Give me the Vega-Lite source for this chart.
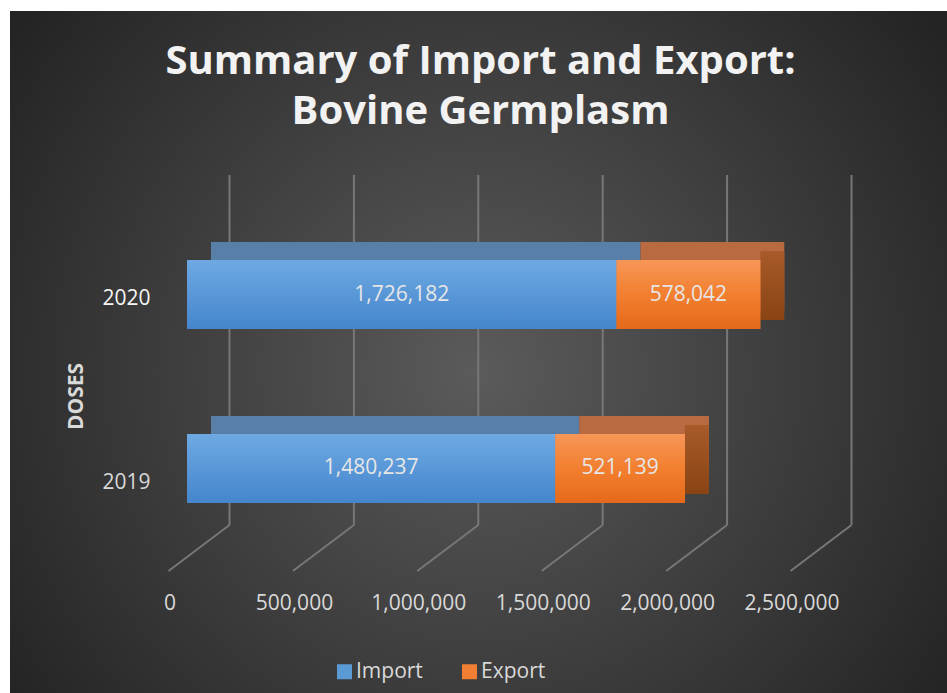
{
  "$schema": "https://vega.github.io/schema/vega-lite/v6.json",
  "width": 937,
  "height": 682,
  "autosize": {"type": "none"},
  "padding": {"left": 10, "top": 11, "right": 0, "bottom": 0},
  "background": "white",
  "config": {
    "font": "Open Sans",
    "view": {
      "stroke": null,
      "fill": {"gradient": "radial", "x1": 0.5, "y1": 0.52, "r1": 0, "x2": 0.5, "y2": 0.52, "r2": 0.62,
        "stops": [{"offset": 0, "color": "#5b5b5b"}, {"offset": 1, "color": "#232323"}]}
    }
  },
  "title": {
    "text": ["Summary of Import and Export:", "Bovine Germplasm"],
    "anchor": "middle",
    "frame": "group",
    "offset": -153,
    "baseline": "alphabetic",
    "font": "Open Sans",
    "fontSize": 40,
    "fontWeight": "bold",
    "color": "#f2f2f2",
    "lineHeight": 50,
    "dx": 2
  },
  "datasets": {
    "bars": [
      {"year": "2020", "type": "Import", "value": 1726182},
      {"year": "2020", "type": "Export", "value": 578042},
      {"year": "2019", "type": "Import", "value": 1480237},
      {"year": "2019", "type": "Export", "value": 521139}
    ],
    "grid": [
      {"v": 0}, {"v": 500000}, {"v": 1000000}, {"v": 1500000}, {"v": 2000000}, {"v": 2500000}
    ]
  },
  "layer": [
    {
      "data": {"name": "grid"},
      "mark": {"type": "rule", "color": "#777777", "strokeWidth": 2, "yOffset": -518, "y2Offset": -168},
      "encoding": {
        "x": {
          "field": "v", "type": "quantitative",
          "scale": {"domain": [-882235, 2883842], "nice": false, "zero": false},
          "axis": {
            "values": [0, 500000, 1000000, 1500000, 2000000, 2500000],
            "labelExpr": "format(datum.value, ',')",
            "domain": false, "ticks": false, "tickSize": 0, "grid": false,
            "labelOffset": -60, "labelPadding": -90, "labelBaseline": "middle",
            "labelFontSize": 21, "labelColor": "#d9d9d9", "labelFont": "Open Sans",
            "labelOverlap": false, "labelFlush": false, "title": null
          }
        },
        "y": {"value": "height"},
        "y2": {"value": "height"}
      }
    },
    {
      "data": {"name": "grid"},
      "mark": {"type": "rule", "color": "#777777", "strokeWidth": 2, "yOffset": -168, "y2Offset": -122, "x2Offset": -61},
      "encoding": {
        "x": {"field": "v", "type": "quantitative"},
        "x2": {"field": "v"},
        "y": {"value": "height"},
        "y2": {"value": "height"}
      }
    },
    {
      "data": {"name": "bars"},
      "transform": [
        {"stack": "value", "groupby": ["year"], "sort": [{"field": "type", "order": "descending"}], "as": ["v0", "v1"]}
      ],
      "mark": {"type": "bar", "xOffset": -18.5, "x2Offset": -18.5, "yOffset": -18, "y2Offset": -18},
      "encoding": {
        "x": {"field": "v0", "type": "quantitative"},
        "x2": {"field": "v1"},
        "y": {"field": "year", "type": "nominal",
          "scale": {"type": "band", "domain": ["2020", "2019"], "range": [249, 492], "paddingInner": 0.6034, "paddingOuter": 0}},
        "fill": {"condition": {"test": "datum.type == 'Import'", "value": "#587fa7"}, "value": "#b96a40"}
      }
    },
    {
      "data": {"name": "bars"},
      "transform": [
        {"stack": "value", "groupby": ["year"], "sort": [{"field": "type", "order": "descending"}], "as": ["v0", "v1"]},
        {"filter": "datum.type == 'Export'"}
      ],
      "mark": {"type": "bar", "xOffset": -42.5, "x2Offset": -18.5, "yOffset": -9, "y2Offset": -9,
        "fill": {"gradient": "linear", "x1": 0, "y1": 0, "x2": 0, "y2": 1,
          "stops": [{"offset": 0, "color": "#a85b2a"}, {"offset": 1, "color": "#8a4313"}]}},
      "encoding": {
        "x": {"field": "v1", "type": "quantitative"},
        "x2": {"field": "v1"},
        "y": {"field": "year", "type": "nominal"}
      }
    },
    {
      "data": {"name": "bars"},
      "transform": [
        {"stack": "value", "groupby": ["year"], "sort": [{"field": "type", "order": "descending"}], "as": ["v0", "v1"]}
      ],
      "mark": {"type": "bar", "xOffset": -42.5, "x2Offset": -42.5},
      "encoding": {
        "x": {"field": "v0", "type": "quantitative"},
        "x2": {"field": "v1"},
        "y": {
          "field": "year", "type": "nominal",
          "axis": {
            "domain": false, "ticks": false, "tickSize": 0, "grid": false,
            "labelAlign": "center", "labelPadding": -116,
            "labelFontSize": 21, "labelFont": "Open Sans",
            "labelColor": {"condition": {"test": "datum.value == '2020'", "value": "#f5f5f5"}, "value": "#d9d9d9"},
            "labelBaseline": {"condition": {"test": "datum.value == '2019'", "value": "top"}, "value": "middle"},
            "labelOffset": 4,
            "title": "DOSES", "titleFont": "Open Sans", "titleFontSize": 21, "titleFontWeight": "bold",
            "titleColor": "#d9d9d9", "titleX": 66, "titleY": 385, "titleAngle": 270,
            "titleAlign": "center", "titleBaseline": "middle"
          }
        },
        "color": {
          "field": "type", "type": "nominal",
          "scale": {"domain": ["Import", "Export"], "range": ["#5b9bd5", "#f07f33"]},
          "legend": {
            "orient": "none", "legendX": 324, "legendY": 650, "direction": "horizontal",
            "title": null, "symbolType": "square", "symbolSize": 225, "symbolStrokeWidth": 0,
            "labelFontSize": 21, "labelColor": "#d9d9d9", "labelFont": "Open Sans",
            "columnPadding": 36, "labelOffset": 1, "padding": 0
          }
        }
      }
    },
    {
      "data": {"name": "bars"},
      "transform": [
        {"stack": "value", "groupby": ["year"], "sort": [{"field": "type", "order": "descending"}], "as": ["v0", "v1"]}
      ],
      "mark": {"type": "bar", "xOffset": -42.5, "x2Offset": -42.5},
      "encoding": {
        "x": {"field": "v0", "type": "quantitative"},
        "x2": {"field": "v1"},
        "y": {"field": "year", "type": "nominal"},
        "fill": {
          "condition": {"test": "datum.type == 'Import'",
            "value": {"gradient": "linear", "x1": 0, "y1": 0, "x2": 0, "y2": 1,
              "stops": [{"offset": 0, "color": "#6ea9e3"}, {"offset": 1, "color": "#4485cc"}]}},
          "value": {"gradient": "linear", "x1": 0, "y1": 0, "x2": 0, "y2": 1,
            "stops": [{"offset": 0, "color": "#f79658"}, {"offset": 0.5, "color": "#f27f2f"}, {"offset": 1, "color": "#e5691a"}]}
        }
      }
    },
    {
      "data": {"name": "bars"},
      "transform": [
        {"stack": "value", "groupby": ["year"], "sort": [{"field": "type", "order": "descending"}], "as": ["v0", "v1"]},
        {"calculate": "(datum.v0 + datum.v1) / 2", "as": "mid"}
      ],
      "mark": {"type": "text", "xOffset": -42.5, "fontSize": 21, "font": "Open Sans", "color": "#e6e6e6", "baseline": "middle", "align": "center"},
      "encoding": {
        "x": {"field": "mid", "type": "quantitative"},
        "y": {"field": "year", "type": "nominal"},
        "text": {"field": "value", "type": "quantitative", "format": ","}
      }
    }
  ]
}
